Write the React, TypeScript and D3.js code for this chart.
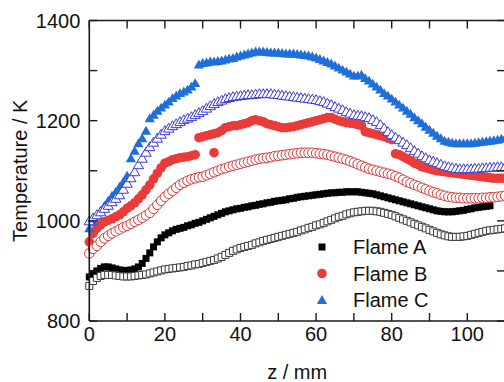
import React, { useEffect, useRef } from 'react';
import * as d3 from 'd3';

// z positions (mm) shared by all series
const zValues = [
  0, 1, 2, 3, 4, 5, 6, 7, 8, 9,
  10, 11, 12, 13, 14, 15, 16, 17, 18, 19,
  20, 21, 22, 23, 24, 25, 26, 27, 28, 29,
  30, 31, 32, 33, 34, 35, 36, 37, 38, 39,
  40, 41, 42, 43, 44, 45, 46, 47, 48, 49,
  50, 51, 52, 53, 54, 55, 56, 57, 58, 59,
  60, 61, 62, 63, 64, 65, 66, 67, 68, 69,
  70, 71, 72, 73, 74, 75, 76, 77, 78, 79,
  80, 81, 82, 83, 84, 85, 86, 87, 88, 89,
  90, 91, 92, 93, 94, 95, 96, 97, 98, 99,
  100, 101, 102, 103, 104, 105, 106, 107, 108, 109, 110,
];

const flameAFilled = [
  888, 895, 900, 905, 908, 908, 906, 904, 902, 901,
  901, 902, 904, 908, 915, 925, 936, 948, 958, 966,
  972, 976, 980, 983, 985, 987, 990, 992, 995, 997,
  1000, 1003, 1006, 1009, 1012, 1015, 1018, 1020, 1022, 1024,
  1025, 1027, 1028, 1030, 1031, 1033, 1034, 1036, 1037, 1039,
  1040, 1041, 1042, 1044, 1045, 1047, 1048, 1049, 1050, 1051,
  1052, 1053, 1054, 1055, 1056, 1056, 1057, 1057, 1058, 1058,
  1058, 1058, 1057, 1056, 1055, 1054, 1052, 1050, 1048, 1046,
  1044, 1042, 1040, 1038, 1036, 1034, 1032, 1030, 1028, 1026,
  1024, 1022, 1020, 1019, 1018, 1018, 1018, 1019, 1020, 1021,
  1023, 1024, 1026, 1027, 1028, 1029, 1030, null, null, null, null,
];

const flameAOpen = [
  870, 880, 886, 890, 892, 892, 892, 891, 890, 889,
  889, 889, 890, 891, 892, 893, 895, 897, 899, 901,
  903, 904, 905, 906, 907, 908, 910, 911, 913, 914,
  916, 918, 920, 922, 925, 928, 932, 936, 940, 943,
  946, 948, 950, 952, 955, 957, 960, 962, 964, 966,
  968, 970, 972, 974, 976, 978, 981, 983, 986, 988,
  991, 993, 996, 999, 1002, 1005, 1008, 1010, 1013, 1015,
  1017, 1018, 1019, 1020, 1020, 1020, 1019, 1018, 1016, 1014,
  1012, 1009, 1006, 1003, 1000, 997, 994, 991, 988, 985,
  982, 979, 976, 973, 971, 969, 968, 968, 968, 969,
  970, 972, 974, 976, 978, 980, 981, 982, 983, 984, 985,
];

const flameBFilled = [
  958, 975, 985, 992, 998, 1001, 1004, 1008, 1012, 1018,
  1025, 1030, 1036, 1044, 1052, 1062, 1072, 1084, 1095, 1106,
  1115, 1118, 1122, 1124, 1126, 1127, 1128, 1130, 1132, 1166,
  1168, 1170, 1172, 1174, 1176, 1180, 1186, 1188, 1190, 1190,
  1192, 1194, 1196, 1200, 1202, 1200, 1198, 1194, 1192, 1190,
  1188, 1186, 1186, 1187, 1188, 1190, 1192, 1194, 1196, 1198,
  1200, 1202, 1204, 1206, 1206, 1203, 1200, 1198, 1196, 1195,
  1194, 1192, 1190, 1178, 1176, 1174, 1172, 1170, 1168, 1165,
  1162, 1134, 1132, 1128, 1124, 1120, 1115, 1112, 1108, 1106,
  1104, 1102, 1100, 1099, 1098, 1097, 1096, 1095, 1094, 1093,
  1092, 1091, 1090, 1089, 1088, 1087, 1086, 1085, 1085, 1085, 1085,
];
// lone point below the upper branch
const flameBFilledExtraZ = [33];
const flameBFilledExtraT = [1136];

const flameBOpen = [
  935, 944, 950, 958, 965, 970, 975, 979, 983, 987,
  990, 994, 998, 1002, 1006, 1011, 1016, 1024, 1032, 1040,
  1048, 1054, 1060, 1066, 1072, 1076, 1080, 1083, 1085, 1087,
  1088, 1091, 1094, 1097, 1100, 1103, 1105, 1108, 1110, 1112,
  1114, 1116, 1118, 1120, 1122, 1124, 1125, 1126, 1127, 1129,
  1130, 1131, 1132, 1133, 1134, 1135, 1136, 1136, 1136, 1136,
  1135, 1134, 1133, 1132, 1130, 1128, 1126, 1124, 1122, 1119,
  1116, 1113, 1110, 1107, 1104, 1102, 1100, 1098, 1096, 1094,
  1092, 1089, 1086, 1082, 1078, 1075, 1072, 1069, 1066, 1063,
  1060, 1057, 1055, 1052, 1050, 1048, 1047, 1046, 1046, 1045,
  1045, 1045, 1045, 1045, 1046, 1046, 1047, 1047, 1048, 1049, 1050,
];

const flameCFilled = [
  985, 998, 1010, 1020, 1030, 1040, 1050, 1058, 1068, 1078,
  1090, 1125, 1140, 1155, 1165, 1180, 1205, 1212, 1220, 1226,
  1232, 1238, 1245, 1250, 1255, 1258, 1262, 1268, 1275, 1312,
  1315, 1316, 1318, 1318, 1319, 1320, 1322, 1324, 1325, 1328,
  1330, 1332, 1334, 1336, 1338, 1338, 1338, 1337, 1336, 1336,
  1336, 1335, 1334, 1334, 1334, 1333, 1332, 1331, 1330, 1328,
  1326, 1323, 1320, 1317, 1314, 1310, 1306, 1302, 1298, 1294,
  1290, 1290, 1292, 1285, 1280, 1274, 1268, 1262, 1255, 1250,
  1244, 1238, 1232, 1226, 1220, 1214, 1207, 1201, 1195, 1188,
  1182, 1176, 1170, 1165, 1160, 1158, 1156, 1155, 1155, 1155,
  1155, 1155, 1156, 1157, 1158, 1159, 1160, 1161, 1162, 1164, 1165,
];

const flameCOpen = [
  1000, 1006, 1012, 1018, 1025, 1031, 1038, 1045, 1052, 1063,
  1075, 1086, 1098, 1112, 1125, 1137, 1148, 1157, 1165, 1173,
  1180, 1185, 1190, 1194, 1198, 1202, 1205, 1208, 1212, 1216,
  1220, 1225, 1230, 1234, 1238, 1241, 1244, 1246, 1248, 1249,
  1250, 1251, 1252, 1252, 1253, 1254, 1254, 1254, 1254, 1253,
  1252, 1251, 1250, 1249, 1248, 1247, 1246, 1245, 1244, 1243,
  1242, 1240, 1238, 1235, 1232, 1228, 1225, 1222, 1218, 1215,
  1212, 1211, 1210, 1208, 1206, 1202, 1198, 1192, 1185, 1178,
  1172, 1167, 1162, 1157, 1152, 1146, 1140, 1135, 1130, 1126,
  1122, 1119, 1116, 1113, 1110, 1108, 1106, 1105, 1104, 1104,
  1104, 1104, 1105, 1105, 1106, 1106, 1107, 1107, 1108, 1108, 1108,
];

const legendLabels = ['Flame A', 'Flame B', 'Flame C'];
const xTickValues = [0, 10, 20, 30, 40, 50, 60, 70, 80, 90, 100, 110];
const yTickValues = [800, 900, 1000, 1100, 1200, 1300, 1400];

const FONT = '"Liberation Sans", Arial, sans-serif';
const BLACK = '#000000';
const RED = '#ea3b3b';
const BLUE = '#1f6fd8';
const PURPLE = '#3a3ad2';

const App = () => {
  const svgRef = useRef<SVGSVGElement>(null);

  useEffect(() => {
    const W = 504;
    const H = 382;
    const margin = { top: 20.5, left: 89.3, bottom: 61, right: 0 };
    const svg = d3.select(svgRef.current).attr('width', W).attr('height', H);
    svg.selectAll('*').remove();

    const x = d3.scaleLinear().domain([0, 110]).range([margin.left, margin.left + 110 * 3.78]);
    const y = d3.scaleLinear().domain([800, 1400]).range([H - margin.bottom, margin.top]);
    const [x0, x1] = x.range();
    const [y0, y1] = y.range();

    const symSquare = d3.symbol().type(d3.symbolSquare).size(49)();
    const symCircle = d3.symbol().type(d3.symbolCircle).size(72)();
    const symTri = d3.symbol().type(d3.symbolTriangle).size(46)();

    const plot = svg.append('g');

    const drawSeries = (values: (number | null)[], zs: number[], path: string | null,
      fill: string, stroke: string, sw: number, dy = 0) => {
      const pts = zs.map((z, i) => ({ z, t: values[i] })).filter(d => d.t != null);
      plot.append('g')
        .selectAll('path')
        .data(pts)
        .enter()
        .append('path')
        .attr('d', path)
        .attr('transform', d => `translate(${x(d.z)},${y(d.t as number) + dy})`)
        .attr('fill', fill)
        .attr('stroke', stroke)
        .attr('stroke-width', sw);
    };

    // filled first, open symbols on top
    drawSeries(flameAFilled, zValues, symSquare, BLACK, 'none', 0);
    drawSeries(flameBFilled, zValues, symCircle, RED, 'none', 0);
    drawSeries(flameBFilledExtraT, flameBFilledExtraZ, symCircle, RED, 'none', 0);
    drawSeries(flameCFilled, zValues, symTri, BLUE, 'none', 0, 1);
    drawSeries(flameAOpen, zValues, symSquare, '#ffffff', '#3a3a3a', 1);
    drawSeries(flameBOpen, zValues, symCircle, '#ffffff', '#d83535', 1);
    drawSeries(flameCOpen, zValues, symTri, '#ffffff', PURPLE, 1, 1);

    // axes frame
    const axisColor = '#1a1a1a';
    const frame = svg.append('g').attr('stroke', axisColor).attr('stroke-width', 1.6).attr('fill', 'none');
    frame.append('line').attr('x1', x0).attr('x2', x1).attr('y1', y0).attr('y2', y0);
    frame.append('line').attr('x1', x0).attr('x2', x1).attr('y1', y1).attr('y2', y1);
    frame.append('line').attr('x1', x0).attr('x2', x0).attr('y1', y0).attr('y2', y1);
    frame.append('line').attr('x1', x1).attr('x2', x1).attr('y1', y0).attr('y2', y1);

    const tickLen = 8;
    const ticks = svg.append('g').attr('stroke', axisColor).attr('stroke-width', 1.4);
    xTickValues.forEach(v => {
      ticks.append('line').attr('x1', x(v)).attr('x2', x(v)).attr('y1', y0).attr('y2', y0 - tickLen);
      ticks.append('line').attr('x1', x(v)).attr('x2', x(v)).attr('y1', y1).attr('y2', y1 + tickLen);
    });
    yTickValues.forEach(v => {
      ticks.append('line').attr('x1', x0).attr('x2', x0 + tickLen).attr('y1', y(v)).attr('y2', y(v));
      ticks.append('line').attr('x1', x1).attr('x2', x1 - tickLen).attr('y1', y(v)).attr('y2', y(v));
    });

    const labels = svg.append('g').attr('font-family', FONT).attr('font-size', 20).attr('fill', '#111');
    xTickValues.filter(v => v % 20 === 0 && v <= 100).forEach(v => {
      labels.append('text').attr('x', x(v)).attr('y', y0 + 20).attr('text-anchor', 'middle').text(String(v));
    });
    yTickValues.filter(v => v % 200 === 0).forEach(v => {
      labels.append('text').attr('x', x0 - 9).attr('y', y(v) + 7).attr('text-anchor', 'end').text(String(v));
    });
    labels.append('text').attr('x', (x0 + x1) / 2).attr('y', 379).attr('text-anchor', 'middle').text('z / mm');
    labels.append('text')
      .attr('transform', `translate(27,${(y0 + y1) / 2}) rotate(-90)`)
      .attr('text-anchor', 'middle')
      .text('Temperature / K');

    // legend
    const legendSyms = [symSquare, symCircle, symTri];
    const legendColors = [BLACK, RED, BLUE];
    legendLabels.forEach((lab, i) => {
      const ly = 247 + i * 26.5;
      svg.append('path').attr('d', legendSyms[i])
        .attr('transform', `translate(322,${ly + (i === 2 ? 1 : 0)})`)
        .attr('fill', legendColors[i]);
      labels.append('text').attr('x', 353).attr('y', ly + 7).text(lab);
    });
  }, []);

  return (
    <svg ref={svgRef} style={{ position: 'absolute', left: 0, top: 0, background: '#fff' }}></svg>
  );
};

export default App;
